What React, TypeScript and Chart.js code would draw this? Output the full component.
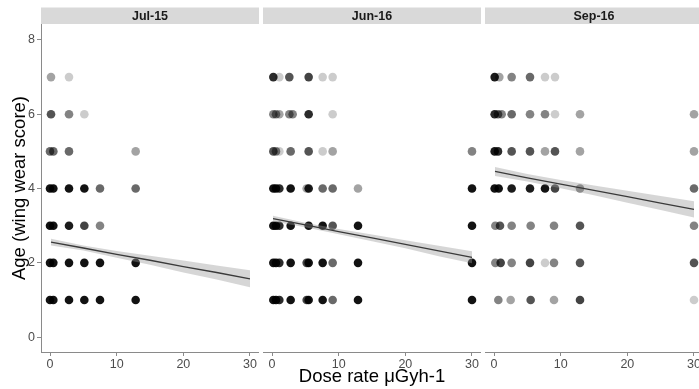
import React, { useEffect, useRef } from "react";
import { Chart, registerables } from "chart.js";

Chart.register(...registerables);

const FONT = "'Liberation Sans', Arial, Helvetica, sans-serif";

// ---- facets & ticks ----
const panelNames = ["Jul-15", "Jun-16", "Sep-16"];
const xTicks = [0, 10, 20, 30];
const yTicks = [0, 2, 4, 6, 8];
const xTitle = "Dose rate μGyh-1";
const yTitle = "Age (wing wear score)";

// ---- Jul-15 observations (dose, age, number of overlapping observations) ----
const doseJul15 = [0.15, 2.85, 0.15, 2.85, 5.15, 0, 0.5, 2.85, 12.85, 0, 0.5, 2.85, 5.15, 7.5, 12.85, 0, 0.5, 2.85, 5.15, 7.5, 0, 0.5, 2.85, 5.15, 7.5, 12.85, 0, 0.5, 2.85, 5.15, 7.5, 12.85];
const ageJul15 = [7, 7, 6, 6, 6, 5, 5, 5, 5, 4, 4, 4, 4, 4, 4, 3, 3, 3, 3, 3, 2, 2, 2, 2, 2, 2, 1, 1, 1, 1, 1, 1];
const countJul15 = [2, 1, 5, 3, 1, 4, 4, 4, 2, 12, 12, 12, 12, 4, 4, 12, 12, 10, 6, 3, 12, 12, 12, 12, 12, 12, 12, 12, 12, 12, 12, 12];

// ---- Jun-16 ----
const doseJun16 = [
  0.2, 1.1, 2.6, 5.5, 7.6, 9.1,
  0.2, 0.6, 1.1, 2.6, 3.1, 5.5, 9.1,
  0.2, 0.6, 1.1, 2.8, 5.5, 7.6, 9.1, 30,
  0.2, 0.6, 1.1, 2.8, 5.2, 5.5, 7.6, 9.1, 12.9, 30,
  0.2, 0.6, 1.1, 2.8, 5.5, 7.6, 9.1, 12.9, 30,
  0.2, 0.6, 1.1, 2.8, 5.2, 5.5, 7.6, 9.1, 12.9, 30,
  0.2, 0.6, 1.1, 2.8, 5.2, 5.5, 7.6, 9.1, 12.9, 30,
];
const ageJun16 = [
  7, 7, 7, 7, 7, 7,
  6, 6, 6, 6, 6, 6, 6,
  5, 5, 5, 5, 5, 5, 5, 5,
  4, 4, 4, 4, 4, 4, 4, 4, 4, 4,
  3, 3, 3, 3, 3, 3, 3, 3, 3,
  2, 2, 2, 2, 2, 2, 2, 2, 2, 2,
  1, 1, 1, 1, 1, 1, 1, 1, 1, 1,
];
const countJun16 = [
  8, 1, 5, 6, 1, 1,
  3, 3, 2, 3, 3, 8, 1,
  5, 3, 1, 4, 5, 1, 2, 3,
  12, 12, 8, 12, 2, 10, 4, 4, 2, 12,
  12, 12, 8, 12, 12, 12, 5, 12, 12,
  12, 12, 8, 12, 6, 12, 12, 4, 12, 12,
  12, 12, 8, 12, 6, 12, 12, 4, 12, 12,
];

// ---- Sep-16 ----
const doseSep16 = [
  0.1, 0.8, 2.65, 5.4, 7.65, 9.15,
  0.1, 0.6, 1.15, 2.65, 5.4, 7.65, 9.15, 12.9, 30,
  0.1, 0.6, 2.65, 5.4, 7.65, 9.15, 12.9, 30,
  0.1, 0.7, 2.65, 5.4, 7.65, 9.15, 12.9, 30,
  0.2, 0.9, 2.65, 5.5, 9.0, 12.9, 30,
  0.2, 1.0, 2.65, 5.4, 7.65, 9.0, 12.9, 30,
  0.65, 2.5, 5.5, 9.0, 12.9, 30,
];
const ageSep16 = [
  7, 7, 7, 7, 7, 7,
  6, 6, 6, 6, 6, 6, 6, 6, 6,
  5, 5, 5, 5, 5, 5, 5, 5,
  4, 4, 4, 4, 4, 4, 4, 4,
  3, 3, 3, 3, 3, 3, 3,
  2, 2, 2, 2, 2, 2, 2, 2,
  1, 1, 1, 1, 1, 1,
];
const countSep16 = [
  10, 2, 3, 4, 1, 1,
  8, 4, 3, 4, 3, 3, 1, 2, 2,
  10, 8, 5, 5, 2, 5, 2, 2,
  12, 12, 10, 10, 12, 6, 3, 4,
  3, 5, 3, 3, 3, 5, 3,
  3, 6, 3, 6, 1, 3, 5, 5,
  3, 2, 5, 2, 6, 1,
];

// ---- fitted linear trend with 95% band ----
const fitX = [0.15, 5, 10, 15, 20, 25, 30];
const fitJul15 = [2.56, 2.4, 2.23, 2.07, 1.9, 1.74, 1.57];
const lowJul15 = [2.47, 2.33, 2.14, 1.95, 1.74, 1.55, 1.34];
const highJul15 = [2.65, 2.47, 2.32, 2.19, 2.06, 1.93, 1.8];
const fitJun16 = [3.19, 3.02, 2.84, 2.67, 2.5, 2.32, 2.15];
const lowJun16 = [3.11, 2.96, 2.77, 2.58, 2.39, 2.18, 1.99];
const highJun16 = [3.27, 3.08, 2.91, 2.76, 2.61, 2.46, 2.31];
const fitSep16 = [4.46, 4.29, 4.12, 3.95, 3.78, 3.61, 3.44];
const lowSep16 = [4.34, 4.19, 4.01, 3.82, 3.62, 3.42, 3.22];
const highSep16 = [4.58, 4.39, 4.23, 4.08, 3.94, 3.8, 3.66];

const panels = [
  { dose: doseJul15, age: ageJul15, count: countJul15, fit: fitJul15, low: lowJul15, high: highJul15 },
  { dose: doseJun16, age: ageJun16, count: countJun16, fit: fitJun16, low: lowJun16, high: highJun16 },
  { dose: doseSep16, age: ageSep16, count: countSep16, fit: fitSep16, low: lowSep16, high: highSep16 },
];

const POINT_ALPHA = 0.2;
const pointColor = (n: number) => `rgba(0,0,0,${(1 - Math.pow(1 - POINT_ALPHA, n)).toFixed(3)})`;

const AXIS_GREY = "#8a8a8a";
const TICK_TEXT = "#4D4D4D";

const stripPlugin = {
  id: "strip",
  afterDraw(chart: any, _args: any, opts: any) {
    const { ctx, chartArea } = chart;
    const top = 7.5;
    ctx.save();
    ctx.fillStyle = "#D9D9D9";
    ctx.fillRect(chartArea.left, top, chartArea.right - chartArea.left, chartArea.top - top);
    ctx.fillStyle = "#1A1A1A";
    ctx.font = `bold 12.5px ${FONT}`;
    ctx.textAlign = "center";
    ctx.textBaseline = "middle";
    ctx.fillText(opts.text, (chartArea.left + chartArea.right) / 2, (top + chartArea.top) / 2 + 0.5);
    ctx.restore();
  },
};

function Panel({ index, left, width }: { index: number; left: number; width: number }) {
  const ref = useRef<HTMLCanvasElement | null>(null);
  useEffect(() => {
    const p = panels[index];
    const pts = p.dose.map((d, i) => ({ x: d, y: p.age[i] }));
    const colors = p.count.map(pointColor);
    const chart = new Chart(ref.current as HTMLCanvasElement, {
      type: "scatter",
      data: {
        datasets: [
          {
            type: "scatter",
            data: pts,
            backgroundColor: colors,
            pointRadius: 4.3,
            pointBorderWidth: 0,
            borderWidth: 0,
            order: 3,
          } as any,
          {
            type: "line",
            data: fitX.map((x, i) => ({ x, y: p.high[i] })),
            borderWidth: 0,
            pointRadius: 0,
            fill: false,
            order: 2,
          } as any,
          {
            type: "line",
            data: fitX.map((x, i) => ({ x, y: p.low[i] })),
            borderWidth: 0,
            pointRadius: 0,
            fill: "-1",
            backgroundColor: "rgba(153,153,153,0.4)",
            order: 2,
          } as any,
          {
            type: "line",
            data: fitX.map((x, i) => ({ x, y: p.fit[i] })),
            borderColor: "#3a3a3a",
            borderWidth: 1.3,
            pointRadius: 0,
            fill: false,
            order: 1,
          } as any,
        ],
      },
      options: {
        animation: false,
        responsive: false,
        devicePixelRatio: 1,
        events: [],
        layout: { autoPadding: false, padding: { top: 24, left: 0, right: 0, bottom: 0 } },
        plugins: {
          legend: { display: false },
          tooltip: { enabled: false },
          strip: { text: panelNames[index] },
        } as any,
        scales: {
          x: {
            type: "linear",
            min: -1.35,
            max: 31.35,
            afterBuildTicks: (s: any) => {
              s.ticks = xTicks.map((v) => ({ value: v }));
            },
            afterFit: (s: any) => {
              s.height = 37;
              s.paddingLeft = 0;
              s.paddingRight = 0;
            },
            grid: { display: true, drawOnChartArea: false, drawTicks: true, tickLength: 4, tickColor: AXIS_GREY, color: AXIS_GREY },
            border: { display: true, color: AXIS_GREY, width: 1 },
            ticks: { color: TICK_TEXT, font: { family: FONT, size: 12.5 }, padding: 1, maxRotation: 0, autoSkip: false },
            title: {
              display: index === 1,
              text: xTitle,
              color: "#000",
              font: { family: FONT, size: 18.5 },
              padding: { top: 0, bottom: 1.2 },
            },
          },
          y: {
            type: "linear",
            display: index === 0,
            min: -0.4,
            max: 8.43,
            afterBuildTicks: (s: any) => {
              s.ticks = yTicks.map((v) => ({ value: v }));
            },
            afterFit: (s: any) => {
              s.width = index === 0 ? 41 : 0;
              s.paddingTop = 0;
              s.paddingBottom = 0;
            },
            grid: { display: true, drawOnChartArea: false, drawTicks: true, tickLength: 4, tickColor: AXIS_GREY, color: AXIS_GREY },
            border: { display: true, color: AXIS_GREY, width: 1 },
            ticks: { color: TICK_TEXT, font: { family: FONT, size: 12.5 }, padding: 2 },
            title: {
              display: true,
              text: yTitle,
              color: "#000",
              font: { family: FONT, size: 18.5 },
              padding: { top: 8.5, bottom: 0 },
            },
          },
        },
      } as any,
      plugins: [stripPlugin],
    });
    return () => chart.destroy();
  }, [index]);
  return (
    <canvas
      ref={ref}
      width={width}
      height={389}
      style={{ position: "absolute", left, top: 0, width, height: 389 }}
    />
  );
}

export default function App() {
  return (
    <div
      style={{
        position: "absolute",
        left: 0,
        top: 0,
        width: 699,
        height: 389,
        overflow: "hidden",
        background: "#fff",
      }}
    >
      <Panel index={0} left={0} width={259} />
      <Panel index={1} left={263} width={218} />
      <Panel index={2} left={485} width={218} />
    </div>
  );
}
